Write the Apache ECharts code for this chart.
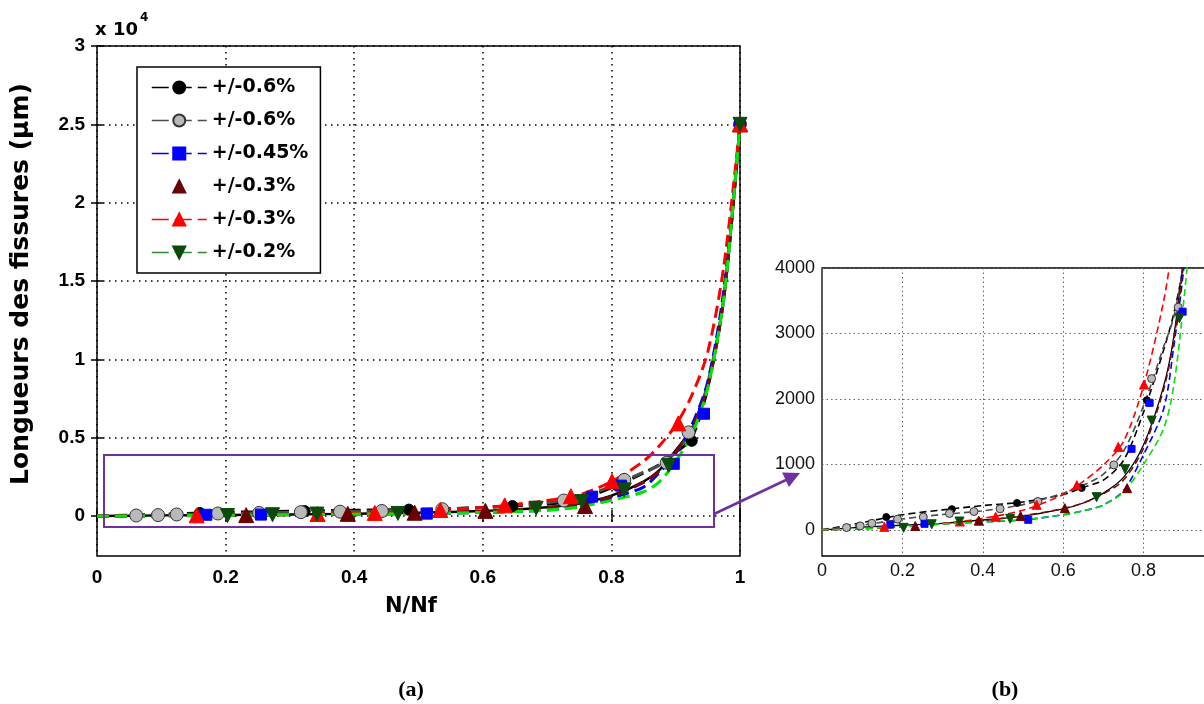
<!DOCTYPE html>
<html><head><meta charset="utf-8">
<script src="https://cdn.jsdelivr.net/npm/echarts@6/dist/echarts.min.js"></script>
<style>html,body{margin:0;padding:0;background:#fff}#c{width:1204px;height:704px}</style>
</head><body><div id="c"></div>
<script>
// ---- measured markers (N/Nf, crack length in µm) ----
const blackX = [0.16, 0.323, 0.485, 0.646, 0.808, 0.925, 1.0];
const blackY = [195, 316, 410, 640, 1980, 4800, 25000];
const grayX = [0.061, 0.095, 0.124, 0.188, 0.252, 0.317, 0.378, 0.443, 0.537, 0.726, 0.820, 0.886, 0.920, 1.0];
const grayY = [35, 60, 100, 163, 195, 250, 280, 321, 433, 992, 2310, 3400, 5340, 25000];
const blueX = [0.17, 0.255, 0.513, 0.77, 0.815, 0.897, 0.944, 1.0];
const blueY = [80, 92, 153, 1237, 1940, 3333, 6530, 25000];
const darkRedX = [0.232, 0.39, 0.494, 0.604, 0.759, 1.0];
const darkRedY = [58, 140, 210, 331, 636, 25000];
const redX = [0.155, 0.343, 0.432, 0.534, 0.634, 0.737, 0.801, 0.904, 1.0];
const redY = [45, 127, 200, 382, 682, 1267, 2220, 5914, 25000];
const greenX = [0.203, 0.273, 0.342, 0.468, 0.683, 0.754, 0.82, 0.889, 1.0];
const greenY = [30, 85, 127, 168, 499, 926, 1669, 3232, 25000];

// ---- fitted curves ----
const curveX = [0, 0.1, 0.2, 0.3, 0.4, 0.5, 0.6, 0.65, 0.7, 0.75, 0.8, 0.85, 0.875, 0.9, 0.925, 0.95, 0.975, 1.0];
const blackFit = [0, 110, 230, 305, 370, 425, 540, 650, 760, 1060, 1800, 2750, 3300, 4050, 5000, 8200, 14000, 25000];
const grayFit = [0, 70, 165, 235, 290, 385, 560, 680, 850, 1200, 1900, 2800, 3250, 4100, 5500, 8500, 14000, 25000];
const blueFit = [0, 25, 60, 95, 120, 150, 230, 290, 380, 600, 1150, 1850, 2800, 4000, 5800, 8600, 14500, 25000];
const darkRedFit = [0, 15, 45, 90, 140, 215, 325, 410, 550, 760, 1250, 2150, 2900, 4100, 5600, 8300, 14000, 25000];
const redFit = [0, 20, 50, 95, 175, 300, 540, 740, 990, 1350, 2200, 3500, 4500, 5800, 7700, 10500, 16000, 25000];
const greenFit = [0, 20, 50, 90, 120, 155, 230, 290, 380, 580, 1000, 1550, 2200, 3500, 5200, 8200, 14000, 25000];
const meanFit = [0, 40, 70, 100, 150, 210, 320, 410, 560, 800, 1300, 2200, 2950, 4200, 5600, 8400, 14000, 25000];

const legendLabels = ['+/-0.6%', '+/-0.6%', '+/-0.45%', '+/-0.3%', '+/-0.3%', '+/-0.2%'];
const leftYTicks = [0, 5000, 10000, 15000, 20000, 25000, 30000];
const rightYTicks = [0, 1000, 2000, 3000, 4000];

const pts = (xs, ys) => xs.map((x, i) => [x, ys[i]]);

const defs = [
  {key:'s1', mx:blackX, my:blackY, fit:blackFit, sym:'circle', rot:0, fill:'#000', border:'#000', line:'#000', szL:11, szR:7},
  {key:'s2', mx:grayX, my:grayY, fit:grayFit, sym:'circle', rot:0, fill:'#b9b9b9', border:'#333', line:'#4d4d4d', szL:13, szR:8},
  {key:'s3', mx:blueX, my:blueY, fit:blueFit, sym:'rect', rot:0, fill:'#0000ff', border:'#0000ff', line:'#0000ff', szL:11, szR:7},
  {key:'s4', mx:darkRedX, my:darkRedY, fit:darkRedFit, sym:'triangle', rot:0, fill:'#6b0000', border:'#6b0000', line:'#7a0a0a', szL:15, szR:9},
  {key:'s5', mx:redX, my:redY, fit:redFit, sym:'triangle', rot:0, fill:'#ff0000', border:'#ff0000', line:'#ff0000', szL:15, szR:9},
  {key:'s6', mx:greenX, my:greenY, fit:greenFit, sym:'triangle', rot:180, fill:'#0a4a0a', border:'#0a4a0a', line:'#00e600', szL:14, szR:9}
];

const series = [];
function addPanel(xi, yi, lw, dash, left) {
  series.push({name: left ? 'meanL' : 'meanR', type:'line', xAxisIndex:xi, yAxisIndex:yi, data:pts(curveX, meanFit),
    showSymbol:false, symbol:'none', smooth:0.3, lineStyle:{color:'#000', width:lw*0.8, type:'solid'}, z:2, silent:true});
  defs.forEach((d, k) => {
    series.push({name: left ? d.key : d.key + 'r', type:'line', xAxisIndex:xi, yAxisIndex:yi, data:pts(curveX, d.fit),
      showSymbol:false, symbol:d.sym, symbolRotate:d.rot, smooth:0.3,
      itemStyle:{color:d.fill, borderColor:d.border, borderWidth:1},
      lineStyle:{color:d.line, width:lw, type:dash}, z:3 + k, silent:true});
  });
  defs.forEach((d, k) => {
    series.push({name: (left ? 'm' : 'mr') + d.key, type:'scatter', xAxisIndex:xi, yAxisIndex:yi, data:pts(d.mx, d.my),
      symbol:d.sym, symbolRotate:d.rot, symbolSize: left ? d.szL : d.szR,
      itemStyle:{color:d.fill, borderColor:d.border, borderWidth:1, opacity:1}, z:10 + k, silent:true});
  });
}
addPanel(0, 0, 3, [12, 6], true);
addPanel(2, 2, 1.6, [7, 4], false);

const fontB = '"DejaVu Sans", sans-serif';
const option = {
  animation: false,
  backgroundColor: '#fff',
  grid: [
    {left:97, top:46, width:643, height:510, show:true, borderColor:'#000', borderWidth:1.5, backgroundColor:'transparent', outerBoundsMode:'none', containLabel:false},
    {left:822, top:268, width:402, height:288, show:true, borderColor:'#000', borderWidth:1.3, backgroundColor:'transparent', outerBoundsMode:'none', containLabel:false}
  ],
  xAxis: [
    {gridIndex:0, type:'value', min:0, max:1, interval:0.2, position:'bottom',
      axisLine:{show:false}, axisTick:{inside:true, length:6, lineStyle:{color:'#000', width:1.5}},
      axisLabel:{margin:12, color:'#000', fontFamily:'"Liberation Sans", Arial', fontWeight:'bold', fontSize:19, formatter:v => String(+v.toFixed(1))},
      splitLine:{show:true, lineStyle:{color:'#000', width:1.5, type:[1.5, 4.5]}}},
    {gridIndex:0, type:'value', min:0, max:1, interval:0.2, position:'top',
      axisLine:{show:false}, axisTick:{inside:true, length:6, lineStyle:{color:'#000', width:1.5}},
      axisLabel:{show:false}, splitLine:{show:false}},
    {gridIndex:1, type:'value', min:0, max:1, interval:0.2, position:'bottom',
      axisLine:{show:false}, axisTick:{show:false},
      axisLabel:{margin:6, color:'#111', fontFamily:'"Liberation Sans", Arial', fontSize:18, formatter:v => String(+v.toFixed(1))},
      splitLine:{show:true, lineStyle:{color:'#666', width:1, type:[1.5, 3]}}}
  ],
  yAxis: [
    {gridIndex:0, type:'value', min:-2550, max:30000, position:'left',
      axisLine:{show:false}, axisTick:{inside:true, length:6, customValues:leftYTicks, lineStyle:{color:'#000', width:1.5}},
      axisLabel:{margin:12, customValues:leftYTicks, color:'#000', fontFamily:'"Liberation Sans", Arial', fontWeight:'bold', fontSize:19, formatter:v => String(v / 10000)},
      splitLine:{show:true, lineStyle:{color:'#000', width:1.5, type:[1.5, 4.5]}}},
    {gridIndex:0, type:'value', min:-2550, max:30000, position:'right',
      axisLine:{show:false}, axisTick:{inside:true, length:6, customValues:leftYTicks, lineStyle:{color:'#000', width:1.5}},
      axisLabel:{show:false, customValues:leftYTicks}, splitLine:{show:false}},
    {gridIndex:1, type:'value', min:-400, max:4000, position:'left',
      axisLine:{show:false}, axisTick:{show:false, customValues:rightYTicks},
      axisLabel:{margin:7, customValues:rightYTicks, color:'#111', fontFamily:'"Liberation Sans", Arial', fontSize:18, formatter:v => String(v)},
      splitLine:{show:true, lineStyle:{color:'#666', width:1, type:[1.5, 3]}}}
  ],
  legend: {
    left:137, top:67, orient:'vertical', selectedMode:false,
    padding:[11, 12, 11, 14], itemWidth:55, itemHeight:15, itemGap:14,
    backgroundColor:'#fff', borderColor:'#000', borderWidth:1.5,
    lineStyle:{width:1.5, type:[17, 6]},
    textStyle:{fontFamily:fontB, fontWeight:'bold', fontSize:19, color:'#000'},
    formatter: name => legendLabels[['s1','s2','s3','s4','s5','s6'].indexOf(name)],
    data:[{name:'s1'}, {name:'s2'}, {name:'s3'}, {name:'s4', lineStyle:{opacity:0}}, {name:'s5'}, {name:'s6', lineStyle:{color:'#2e8b2e'}}]
  },
  series: series,
  graphic: [
    {type:'rect', z:100, shape:{x:104, y:455, width:610, height:72}, style:{fill:'none', stroke:'#7030a0', lineWidth:2}},
    {type:'line', z:100, shape:{x1:714, y1:514, x2:786, y2:480}, style:{stroke:'#7030a0', lineWidth:2.5}},
    {type:'polygon', z:100, shape:{points:[[800,473],[782.1,472.6],[788.9,487]]}, style:{fill:'#7030a0'}},
    {type:'text', z:100, x:21, y:284, rotation:Math.PI/2, style:{text:'Longueurs des fissures (µm)', font:'bold 25px "DejaVu Sans"', fill:'#000', align:'center', verticalAlign:'middle'}},
    {type:'text', z:100, x:411, y:607, style:{text:'N/Nf', font:'bold 21px "DejaVu Sans"', fill:'#000', align:'center', verticalAlign:'middle'}},
    {type:'text', z:100, x:95, y:30, style:{text:'x 10', font:'bold 18px "DejaVu Sans"', fill:'#000', align:'left', verticalAlign:'middle'}},
    {type:'text', z:100, x:140, y:18, style:{text:'4', font:'bold 12px "DejaVu Sans"', fill:'#000', align:'left', verticalAlign:'middle'}},
    {type:'text', z:100, x:411, y:690, style:{text:'(a)', font:'bold 22px "Liberation Serif"', fill:'#000', align:'center', verticalAlign:'middle'}},
    {type:'text', z:100, x:1005, y:690, style:{text:'(b)', font:'bold 22px "Liberation Serif"', fill:'#000', align:'center', verticalAlign:'middle'}}
  ]
};
const chart = echarts.init(document.getElementById('c'), null, {renderer:'canvas'});
chart.setOption(option);
</script></body></html>
